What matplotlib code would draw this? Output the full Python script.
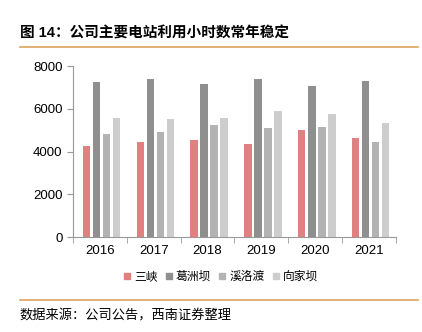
import numpy as np
import matplotlib
matplotlib.use('Agg')
from matplotlib import pyplot as plt
from matplotlib.lines import Line2D

plt.rcParams['font.family'] = ['Liberation Sans', 'Noto Sans CJK SC', 'DejaVu Sans']

# Data
years = ['2016', '2017', '2018', '2019', '2020', '2021']
series_names = ['三峡', '葛洲坝', '溪洛渡', '向家坝']
sanxia = [4250, 4430, 4540, 4360, 4990, 4640]
gezhouba = [7240, 7380, 7140, 7380, 7090, 7310]
xiluodu = [4810, 4900, 5220, 5080, 5160, 4430]
xiangjiaba = [5560, 5500, 5550, 5890, 5780, 5330]
colors = ['#E08080', '#8F8F8F', '#B3B3B3', '#CDCDCD']

fig = plt.figure(figsize=(4.22, 3.32), dpi=100)
ax = fig.add_axes([0.173, 0.286, 0.765, 0.515])

x = np.arange(len(years))
width = 0.14
pitch = 0.186
all_series = [sanxia, gezhouba, xiluodu, xiangjiaba]
for i, vals in enumerate(all_series):
    offs = (i - 1.5) * pitch + 0.03
    ax.bar(x + offs, vals, width, color=colors[i], label=series_names[i])

ax.set_xlim(-0.5, len(years) - 0.5)
ax.set_ylim(0, 8000)
ax.set_yticks([0, 2000, 4000, 6000, 8000])
ax.set_xticks(x)
ax.set_xticklabels(years)
ax.set_xticks(np.arange(-0.5, len(years)), minor=True)
ax.tick_params(axis='x', which='major', length=0, labelsize=9.5, pad=6)
ax.tick_params(axis='x', which='minor', length=4, color='#999999')
ax.tick_params(axis='y', length=4, color='#999999', labelsize=9.5)
for s in ['top', 'right']:
    ax.spines[s].set_visible(False)
for s in ['left', 'bottom']:
    ax.spines[s].set_color('#999999')

handles = [Line2D([], [], marker='s', linestyle='', color=c, markersize=4.5)
           for c in colors]
fig.legend(handles, series_names, loc='center', bbox_to_anchor=(0.524, 0.166),
           ncol=4, frameon=False, fontsize=8.5, handlelength=0.5,
           handletextpad=0.35, columnspacing=0.7)

# title, rules and source note
fig.text(0.047, 0.9, '图 14：公司主要电站利用小时数常年稳定', fontsize=10.5,
         fontweight='bold', va='center')
fig.add_artist(Line2D([0.047, 0.99], [0.858, 0.858], color='#DDA35E', lw=1.2))
fig.add_artist(Line2D([0.047, 0.99], [0.096, 0.096], color='#DDA35E', lw=1.2))
fig.text(0.047, 0.048, '数据来源：公司公告，西南证券整理', fontsize=9.5,
         style='italic', va='center')

fig.savefig('out.png', dpi=100)
